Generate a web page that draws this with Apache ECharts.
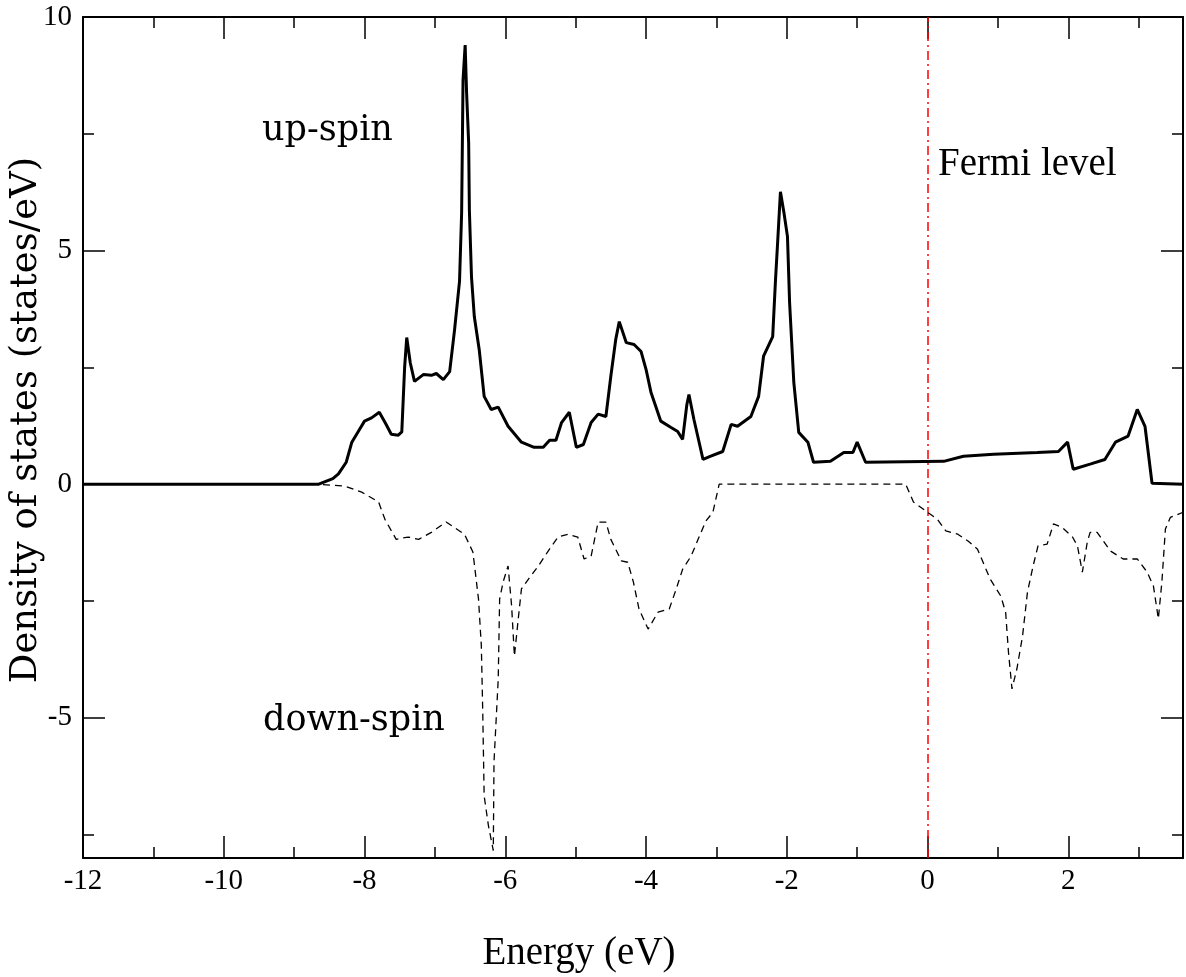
<!DOCTYPE html>
<html>
<head>
<meta charset="utf-8">
<script src="https://cdn.jsdelivr.net/npm/echarts@6/dist/echarts.min.js"></script>
<style>
html,body{margin:0;padding:0;background:#fff;}
#chart{width:1186px;height:977px;}
</style>
</head>
<body>
<div id="chart"></div>
<script>
// ---- data ----
const upEnergy = [-12,-8.65,-8.45,-8.37,-8.26,-8.18,-8.08,-8.0,-7.9,-7.79,-7.7,-7.62,-7.52,-7.47,-7.43,-7.40,-7.35,-7.29,-7.16,-7.05,-6.98,-6.88,-6.79,-6.72,-6.65,-6.62,-6.61,-6.6,-6.57,-6.55,-6.52,-6.51,-6.48,-6.44,-6.37,-6.3,-6.2,-6.1,-5.96,-5.77,-5.59,-5.46,-5.37,-5.28,-5.2,-5.09,-4.99,-4.89,-4.78,-4.68,-4.57,-4.5,-4.43,-4.38,-4.28,-4.17,-4.07,-4.0,-3.93,-3.79,-3.65,-3.55,-3.48,-3.42,-3.39,-3.32,-3.19,-3.08,-2.91,-2.79,-2.7,-2.51,-2.4,-2.33,-2.2,-2.16,-2.13,-2.09,-2.04,-1.99,-1.96,-1.9,-1.83,-1.7,-1.62,-1.38,-1.19,-1.06,-1.0,-0.88,0.23,0.51,0.94,1.56,1.86,1.99,2.07,2.31,2.52,2.67,2.85,2.98,3.09,3.19,3.63];
const upDos = [0,0,0.12,0.22,0.47,0.9,1.15,1.35,1.42,1.54,1.3,1.07,1.05,1.12,2.5,3.14,2.6,2.2,2.35,2.33,2.37,2.24,2.41,3.31,4.34,5.81,7.22,8.65,9.4,8.4,7.3,5.87,4.44,3.59,2.88,1.88,1.6,1.65,1.24,0.9,0.79,0.79,0.94,0.94,1.32,1.54,0.79,0.85,1.32,1.5,1.45,2.31,3.1,3.48,3.03,2.99,2.84,2.46,1.97,1.35,1.22,1.13,0.96,1.7,1.92,1.39,0.53,0.6,0.7,1.28,1.24,1.45,1.88,2.74,3.16,4.38,5.17,6.26,5.81,5.3,3.89,2.18,1.11,0.9,0.47,0.49,0.68,0.68,0.9,0.47,0.49,0.6,0.64,0.68,0.7,0.9,0.32,0.43,0.53,0.9,1.03,1.6,1.24,0.02,0];

const downEnergy = [-12,-8.65,-8.28,-8.04,-7.8,-7.71,-7.55,-7.38,-7.23,-7.05,-6.84,-6.58,-6.46,-6.38,-6.34,-6.32,-6.3,-6.24,-6.17,-6.16,-6.1,-6.08,-6.03,-5.96,-5.91,-5.87,-5.82,-5.77,-5.67,-5.53,-5.39,-5.25,-5.11,-4.97,-4.88,-4.78,-4.68,-4.57,-4.5,-4.35,-4.26,-4.18,-4.1,-3.97,-3.83,-3.67,-3.57,-3.48,-3.36,-3.26,-3.15,-3.05,-2.96,-0.31,-0.2,0,0.14,0.26,0.43,0.58,0.71,0.89,1.04,1.11,1.15,1.2,1.27,1.35,1.42,1.5,1.57,1.7,1.79,1.91,2.06,2.13,2.2,2.27,2.31,2.41,2.6,2.78,2.98,3.12,3.21,3.28,3.33,3.38,3.45,3.63];
const downDos = [0,0,-0.04,-0.17,-0.38,-0.75,-1.18,-1.13,-1.18,-1.03,-0.81,-1.07,-1.45,-2.46,-3.46,-4.87,-6.67,-7.3,-7.84,-5.94,-4.17,-2.46,-2.09,-1.75,-2.6,-3.68,-2.95,-2.24,-2.03,-1.75,-1.43,-1.13,-1.07,-1.13,-1.6,-1.54,-0.81,-0.81,-1.18,-1.64,-1.67,-2.09,-2.67,-3.1,-2.74,-2.67,-2.24,-1.82,-1.54,-1.18,-0.79,-0.6,0,0,-0.38,-0.6,-0.75,-1.0,-1.07,-1.22,-1.39,-2.03,-2.39,-2.74,-3.59,-4.38,-3.95,-3.25,-2.31,-1.75,-1.32,-1.28,-0.85,-0.92,-1.13,-1.32,-1.88,-1.24,-1.03,-1.03,-1.43,-1.6,-1.6,-1.88,-2.18,-2.88,-2.09,-0.96,-0.71,-0.6];

const fermiEnergy = 0;
const xMajorTicks = [-12,-10,-8,-6,-4,-2,0,2];
const xMinorTicks = [-11,-9,-7,-5,-3,-1,1,3];
const yMajorTicks = [-5,0,5,10];
const yMinorTicks = [-7.5,-2.5,2.5,7.5];
const xRange = [-12, 3.63];
const yRange = [-8, 10];

// ---- chart ----
const chart = echarts.init(document.getElementById('chart'), null, {renderer:'canvas'});
const tickFont = {fontFamily:'"Liberation Serif", serif', fontSize:29, color:'#000'};

function xAxisDef(pos, ticks, len, showLine, showLabel){
  return {
    type:'value', min:xRange[0], max:xRange[1], position:pos,
    axisLine:{show:showLine, onZero:false, lineStyle:{color:'#000', width:2}},
    axisTick:{show:true, inside:true, length:len, customValues:ticks, lineStyle:{color:'#000', width:1.5}},
    axisLabel:showLabel ? Object.assign({show:true, customValues:ticks, margin:9}, tickFont) : {show:false},
    splitLine:{show:false}, minorTick:{show:false}
  };
}
function yAxisDef(pos, ticks, len, showLine, showLabel){
  return {
    type:'value', min:yRange[0], max:yRange[1], position:pos,
    axisLine:{show:showLine, onZero:false, lineStyle:{color:'#000', width:2}},
    axisTick:{show:true, inside:true, length:len, customValues:ticks, lineStyle:{color:'#000', width:1.5}},
    axisLabel:showLabel ? Object.assign({show:true, customValues:ticks, margin:11}, tickFont) : {show:false},
    splitLine:{show:false}, minorTick:{show:false}
  };
}

const option = {
  backgroundColor:'#fff',
  animation:false,
  grid:{left:83, top:17, right:3, bottom:119, containLabel:false},
  xAxis:[
    xAxisDef('bottom', xMajorTicks, 22, true, true),
    xAxisDef('bottom', xMinorTicks, 11, false, false),
    xAxisDef('top', xMajorTicks, 22, true, false),
    xAxisDef('top', xMinorTicks, 11, false, false)
  ],
  yAxis:[
    yAxisDef('left', yMajorTicks, 22, true, true),
    yAxisDef('left', yMinorTicks, 11, false, false),
    yAxisDef('right', yMajorTicks, 22, true, false),
    yAxisDef('right', yMinorTicks, 11, false, false)
  ],
  series:[
    {
      name:'down-spin', type:'line', xAxisIndex:0, yAxisIndex:0,
      data: downEnergy.map((e,i)=>[e, downDos[i]]),
      showSymbol:false, symbol:'none', z:2,
      lineStyle:{color:'#000', width:1.3, type:[7,5]},
      markLine:{
        silent:true, symbol:['none','none'], z:1,
        label:{show:false},
        lineStyle:{color:'#ff0000', width:1.5, type:[9,4,2,4]},
        data:[{xAxis:fermiEnergy}]
      }
    },
    {
      name:'up-spin', type:'line', xAxisIndex:0, yAxisIndex:0,
      data: upEnergy.map((e,i)=>[e, upDos[i]]),
      showSymbol:false, symbol:'none', z:3,
      lineStyle:{color:'#000', width:3}
    }
  ],
  graphic:[
    {type:'text', x:262, y:131, style:{text:'up-spin', font:'35px "DejaVu Serif"', fill:'#000', align:'left', verticalAlign:'middle'}},
    {type:'text', x:263, y:721, style:{text:'down-spin', font:'35px "DejaVu Serif"', fill:'#000', align:'left', verticalAlign:'middle'}},
    {type:'text', x:938, y:165, style:{text:'Fermi level', font:'39px "Liberation Serif"', fill:'#000', align:'left', verticalAlign:'middle'}},
    {type:'text', x:579, y:954, style:{text:'Energy (eV)', font:'39px "Liberation Serif"', fill:'#000', align:'center', verticalAlign:'middle'}},
    {type:'text', x:26, y:420, rotation:Math.PI/2, style:{text:'Density of states (states/eV)', font:'37px "DejaVu Serif"', fill:'#000', align:'center', verticalAlign:'middle'}}
  ]
};
chart.setOption(option);
</script>
</body>
</html>
